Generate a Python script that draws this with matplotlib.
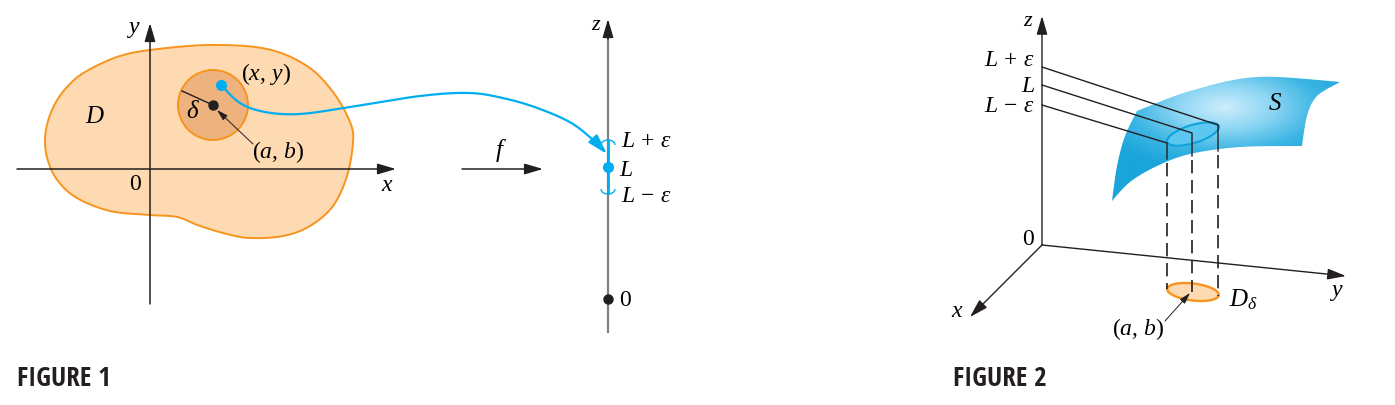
import numpy as np
import matplotlib
matplotlib.use("Agg")
import matplotlib.pyplot as plt
from matplotlib.patches import Polygon, Circle, Ellipse, PathPatch
from matplotlib.path import Path
from matplotlib.colors import LinearSegmentedColormap

plt.rcParams['mathtext.fontset'] = 'custom'
plt.rcParams['mathtext.rm'] = 'Liberation Serif'
plt.rcParams['mathtext.it'] = 'Liberation Serif:italic'
plt.rcParams['font.family'] = ['Liberation Serif', 'DejaVu Sans']

ORANGE = '#F7941D'
LIGHT_OR = '#FDDAB2'
MID_OR = '#EEB27F'
BLUE = '#00AEEF'
INK = '#231F20'

# ---- figure 1 shapes (pixel coords of the page)
blob_x = [45, 48, 56, 68, 85, 117, 150, 210, 267, 307, 333, 350, 353, 347, 333, 310, 283, 250,
          227, 200, 177, 150, 110, 77, 58, 48]
blob_y = [142, 122, 103, 87, 73, 58, 51, 46, 50, 67, 93, 123, 143, 177, 207, 227, 237, 239,
          235, 227, 218, 216, 212, 199, 182, 162]
disk_center = (213, 106)
disk_r = 35
xy_point = (221, 86)
map_x = [221, 240, 265, 300, 350, 420, 470, 507, 540, 573, 600]
map_y = [86, 104, 113, 115, 108, 97, 94, 100, 110, 125, 147]
z1_x = 608
L_val, eps_val, zero_val = 168, 26, 300

# ---- figure 2 shapes
origin2 = (1042, 246)
surf_top = [(1137, 112), (1190, 92), (1257, 78), (1340, 83)]
surf_right = [(1340, 83), (1317, 97), (1307, 117), (1302, 147)]
surf_bottom = [(1302, 147), (1240, 148), (1190, 155), (1157, 167), (1130, 183), (1112, 202)]
surf_left = [(1112, 202), (1117, 167), (1125, 137), (1137, 112)]
z_levels = [68, 86, 106]            # L+eps, L, L-eps on the z axis
proj_ends = [(1218, 126), (1192, 134), (1167, 144)]
edge_y = [152, 157, 160]            # where the surface's lower edge crosses
foot_y = [297, 293, 290]


def catmull(pts, closed=False, n=24):
    pts = np.asarray(pts, float)
    if closed:
        P = np.vstack([pts[-1], pts, pts[0], pts[1]])
    else:
        P = np.vstack([pts[0], pts, pts[-1]])
    out = []
    t = np.linspace(0, 1, n, endpoint=False)[:, None]
    for i in range(1, len(P) - 2):
        p0, p1, p2, p3 = P[i - 1], P[i], P[i + 1], P[i + 2]
        out.append(0.5 * (2 * p1 + (-p0 + p2) * t + (2 * p0 - 5 * p1 + 4 * p2 - p3) * t ** 2
                          + (-p0 + 3 * p1 - 3 * p2 + p3) * t ** 3))
    out.append(P[-2][None])
    return np.vstack(out)


def arrow(ax, tail, tip, color=INK, lw=1.1, ms=15):
    ax.annotate('', xy=tip, xytext=tail,
                arrowprops=dict(arrowstyle='-|>,head_length=0.75,head_width=0.22',
                                color=color, lw=lw, mutation_scale=ms,
                                shrinkA=0, shrinkB=0))


fig = plt.figure(figsize=(13.95, 4.06), dpi=100)
ax = fig.add_axes([0, 0, 1, 1])
FS = 17
SERIF = ['Liberation Serif', 'DejaVu Sans']

# ================= FIGURE 1
blob = catmull(list(zip(blob_x, blob_y)), closed=True)
ax.add_patch(Polygon(blob, closed=True, fc=LIGHT_OR, ec=ORANGE, lw=1.4, zorder=1))
ax.add_patch(Circle(disk_center, disk_r, fc=MID_OR, ec=ORANGE, lw=1.4, zorder=2))

arrow(ax, (17, 170), (396, 170))
arrow(ax, (150, 305), (150, 24))
ax.plot([disk_center[0], 182], [disk_center[1], 92], color=INK, lw=1.0, zorder=3)
ax.plot(*disk_center, 'o', color=INK, ms=6.5, zorder=4)

curve = catmull(list(zip(map_x, map_y)))
ax.plot(curve[:, 0], curve[:, 1], color=BLUE, lw=1.6, zorder=4)
arrow(ax, (596, 143), (607, 155), color=BLUE, lw=1.6, ms=16)
ax.plot(*xy_point, 'o', color=BLUE, ms=7, zorder=5)
arrow(ax, (253, 145), (217, 111), lw=0.7, ms=9)

ax.text(134, 30, '$y$', fontsize=FS, ha='center', va='center')
ax.text(387, 186, '$x$', fontsize=FS, ha='center', va='center')
ax.text(135, 185, '0', fontsize=FS, ha='center', va='center', family=SERIF)
ax.text(95, 117, '$D$', fontsize=FS + 1, ha='center', va='center')
ax.text(193, 112, r'$\delta$', fontsize=FS + 1, ha='center', va='center')
ax.text(266, 74, '$(x,\\,y)$', fontsize=FS, ha='center', va='center')
ax.text(278, 152, '$(a,\\,b)$', fontsize=FS, ha='center', va='center')

# f arrow
arrow(ax, (462, 170), (543, 170))
ax.text(501, 151, '$f$', fontsize=FS + 1, ha='center', va='center')

# z axis of figure 1
ax.plot([z1_x, z1_x], [333, 30], color='#808080', lw=1.6, zorder=1)
arrow(ax, (z1_x, 40), (z1_x, 20), ms=15)
ax.text(596, 26, '$z$', fontsize=FS - 1, ha='center', va='center')
ax.plot([z1_x, z1_x], [L_val - eps_val, L_val + eps_val], color=BLUE, lw=2, zorder=3)
t = np.linspace(0.15, np.pi - 0.15, 30)
ax.plot(z1_x + 7 * np.cos(t), L_val - eps_val + 4 - 5 * np.sin(t), color=BLUE, lw=1, zorder=3)
ax.plot(z1_x + 7 * np.cos(t), L_val + eps_val - 4 + 5 * np.sin(t), color=BLUE, lw=1, zorder=3)
ax.plot(z1_x, L_val, 'o', color=BLUE, ms=7, zorder=5)
ax.plot(z1_x, zero_val, 'o', color=INK, ms=6.5, zorder=5)
ax.text(621, L_val - eps_val, r'$L\,+\,\varepsilon$', fontsize=FS, ha='left', va='center')
ax.text(619, L_val + 3, '$L$', fontsize=FS, ha='left', va='center')
ax.text(621, L_val + eps_val + 3, r'$L\,-\,\varepsilon$', fontsize=FS, ha='left', va='center')
ax.text(619, zero_val + 1, '0', fontsize=FS, ha='left', va='center', family=SERIF)

# ================= FIGURE 2
surf = np.vstack([catmull(surf_top), catmull(surf_right), catmull(surf_bottom), catmull(surf_left)])
surf_patch = PathPatch(Path(surf), fc='none', ec='none')
ax.add_patch(surf_patch)
gx, gy = np.meshgrid(np.linspace(1100, 1350, 260), np.linspace(70, 210, 150))
r = np.sqrt(((gx - 1225) / 140) ** 2 + ((gy - 108) / 65) ** 2)
cmap = LinearSegmentedColormap.from_list('surf', ['#CDEEFC', '#8ED6F4', '#3DB6E4', '#1AA4DA'])
img = ax.imshow(r, extent=(1100, 1350, 210, 70), origin='upper', cmap=cmap,
                vmin=0, vmax=1.0, interpolation='bilinear', zorder=2)
img.set_clip_path(surf_patch)

ax.add_patch(Ellipse((1193, 135), 54, 18, angle=-17, fc='#5CC8F2', ec='#0FA2DB', lw=1.5, zorder=3))
ax.add_patch(Ellipse((1193, 293), 52, 17, angle=7, fc=LIGHT_OR, ec=ORANGE, lw=1.7, zorder=3))

arrow(ax, origin2, (1042, 17), lw=1.0)
arrow(ax, origin2, (1346, 277), lw=1.0)
arrow(ax, origin2, (970, 318), lw=1.0)

for zl, (ex, ey), ey2, fy in zip(z_levels, proj_ends, edge_y, foot_y):
    ax.plot([1042, ex, ex], [zl, ey, ey2], color=INK, lw=1.0, zorder=4)
    ax.plot([ex, ex], [ey2 + 4, fy], color=INK, lw=1.2, dashes=(8, 4), zorder=4)

arrow(ax, (1165, 322), (1190, 294), lw=0.7, ms=9)

ax.text(1028, 22, '$z$', fontsize=FS - 1, ha='center', va='center')
ax.text(1035, 61, r'$L\,+\,\varepsilon$', fontsize=FS, ha='right', va='center')
ax.text(1035, 86, '$L$', fontsize=FS, ha='right', va='center')
ax.text(1035, 106, r'$L\,-\,\varepsilon$', fontsize=FS, ha='right', va='center')
ax.text(1028, 240, '0', fontsize=FS, ha='center', va='center', family=SERIF)
ax.text(957, 312, '$x$', fontsize=FS, ha='center', va='center')
ax.text(1337, 293, '$y$', fontsize=FS, ha='center', va='center')
ax.text(1275, 104, '$S$', fontsize=FS + 1, ha='center', va='center')
ax.text(1229, 300, r'$D_\delta$', fontsize=FS + 1, ha='left', va='center')
ax.text(1138, 329, '$(a,\\,b)$', fontsize=FS, ha='center', va='center')

# captions
for x0, cap in [(17, 'FIGURE 1'), (953, 'FIGURE 2')]:
    ax.text(x0, 379, cap, fontsize=19.5, fontweight='bold', color=INK, ha='left', va='center',
            family=['Open Sans Condensed', 'DejaVu Sans'])

ax.set_xlim(0, 1395)
ax.set_ylim(406, 0)
ax.set_aspect('auto')
ax.axis('off')
fig.savefig('out.png', dpi=100)
